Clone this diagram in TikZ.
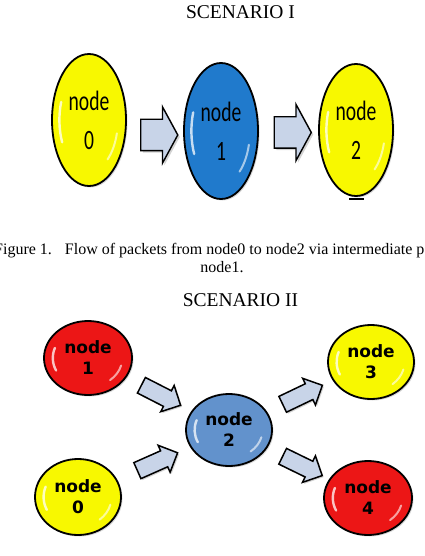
\documentclass[tikz,border=0pt]{standalone}
\usepackage{fontspec}
\setmainfont{Liberation Serif}
\newfontfamily\condfont[FakeStretch=0.7]{Carlito}
\newfontfamily\wideb{DejaVu Sans}
\usetikzlibrary{shapes.geometric,shapes.arrows,shadows,calc}
\definecolor{ylw}{RGB}{248,248,0}
\definecolor{blueA}{RGB}{32,122,204}
\definecolor{blueB}{RGB}{98,146,204}
\definecolor{redN}{RGB}{236,22,22}
\definecolor{afill}{RGB}{200,212,232}
\begin{document}
\begin{tikzpicture}[x=1pt,y=-1pt,
  ball/.style={ellipse, draw=black, line width=1.8pt, inner sep=0pt, outer sep=0pt,
    align=center, text=black,
    drop shadow={shadow xshift=1.5pt, shadow yshift=-1.5pt, opacity=0.3}},
  gloss/.style 2 args={minimum width={2*#1pt}, minimum height={2*#2pt},
    path picture={
      \draw[white, opacity=.75, line width=2.4pt, line cap=round]
        ([shift={(160:{0.8*#1pt} and {0.8*#2pt})}]path picture bounding box.center)
        arc[start angle=160, end angle=205, x radius={0.8*#1pt}, y radius={0.8*#2pt}];
      \draw[white, opacity=.6, line width=2pt, line cap=round]
        ([shift={(-15:{0.78*#1pt} and {0.78*#2pt})}]path picture bounding box.center)
        arc[start angle=-15, end angle=-50, x radius={0.78*#1pt}, y radius={0.78*#2pt}];
    }},
  fontA/.style={font=\condfont\fontsize{28}{39}\selectfont},
  fontB/.style={font=\wideb\bfseries\fontsize{17}{21}\selectfont},
  barrow/.style={single arrow, draw=black, line width=1.4pt, fill=afill, inner sep=0pt,
    minimum height=37pt, single arrow head extend=12.5pt, single arrow tip angle=123,
    drop shadow={shadow xshift=2pt, shadow yshift=-2pt, opacity=0.35}},
  sarrow/.style={single arrow, draw=black, line width=1.5pt, fill=afill, inner sep=0pt,
    minimum height=44pt, single arrow head extend=6pt, single arrow tip angle=90,
    drop shadow={shadow xshift=1.5pt, shadow yshift=-1.5pt, opacity=0.35}},
  title/.style={anchor=base, inner sep=0pt, font=\fontsize{19.5}{22}\selectfont},
  capt/.style={inner sep=0pt, font=\fontsize{16}{19}\selectfont}
]
\useasboundingbox (0,0) rectangle (424,556);

% ---------- Scenario I ----------
\node[title] (t1) at (240.5,18.3) {SCENARIO I};

\node[ball, gloss={37}{66}, fill=ylw, fontA] (a0) at (89,120) {node\\0};
\node[ball, gloss={37}{68}, fill=blueA, fontA] (a1) at (221,131) {node\\1};
\node[ball, gloss={37}{66}, fill=ylw, fontA] (a2) at (356,130) {node\\2};

\path ($(a0.east)+(0,15)$) -- node[barrow] {\rule{0pt}{30pt}} ($(a1.west)+(0,4)$);
\path ($(a1.east)+(0,2)$) -- node[barrow] {\rule{0pt}{30pt}} ($(a2.west)+(0,2)$);

\draw[line width=1.6pt] ($(a2.south)+(-7,3)$) -- ++(15,0);

\node[capt, anchor=base west] (c1) at (-6,254)
  {Figure 1.\hspace{13pt}Flow of packets from node0 to node2 via intermediate p};
\node[capt, anchor=base] (c2) at (222,272) {node1.};

% ---------- Scenario II ----------
\node[title] (t2) at (240.5,306.7) {SCENARIO II};

\node[ball, gloss={44}{37}, fill=redN, fontB] (b1) at (88,358) {node\\1};
\node[ball, gloss={43}{38}, fill=ylw, fontB] (b0) at (78,497) {node\\0};
\node[ball, gloss={43}{36}, fill=blueB, fontB] (b2) at (229,430) {node\\2};
\node[ball, gloss={43}{37}, fill=ylw, fontB] (b3) at (371,362) {node\\3};
\node[ball, gloss={44}{37}, fill=redN, fontB] (b4) at (368,498) {node\\4};

\path (b1.center) -- node[sarrow, sloped, pos=.49] {\rule{0pt}{16pt}} (b2.center);
\path (b0.center) -- node[sarrow, sloped, pos=.5] {\rule{0pt}{16pt}} (b2.center);
\path (b2.center) -- node[sarrow, sloped, pos=.49] {\rule{0pt}{16pt}} (b3.center);
\path (b2.center) -- node[sarrow, sloped, pos=.5] {\rule{0pt}{16pt}} (b4.center);
\end{tikzpicture}
\end{document}
